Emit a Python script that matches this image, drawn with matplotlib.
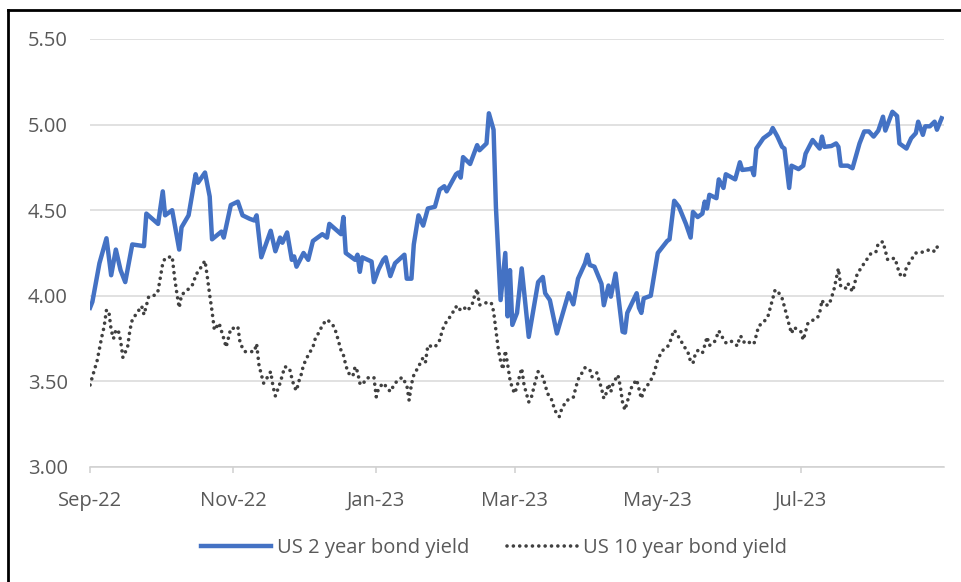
import pandas as pd
import matplotlib
matplotlib.use("Agg")
import matplotlib.pyplot as plt
import matplotlib.dates as mdates
from matplotlib.lines import Line2D

plt.rcParams['font.family'] = ['Open Sans', 'DejaVu Sans']

# days counted from 1 Sep 2022
start = pd.Timestamp("2022-09-01")

two_yr_days = [0, 1, 4, 7, 9, 11, 13, 15, 18, 23, 24, 29, 31, 32, 35, 38, 39, 42, 45, 46,
               49, 51, 52, 56, 57, 60, 63, 65, 68, 70, 71, 73, 77, 79, 81, 82, 84, 86, 87, 88,
               91, 93, 95, 99, 101, 102, 107, 108, 109, 113, 114, 115, 116, 120, 121, 123, 125, 126, 128, 130,
               134, 135, 137, 138, 140, 142, 144, 147, 149, 151, 152, 156, 157, 158, 159, 162, 165, 166, 169, 170,
               172, 173, 175, 177, 178, 179, 180, 182, 184, 187, 191, 193, 194, 196, 199, 204, 206, 208, 211, 212,
               213, 215, 218, 219, 221, 222, 224, 227, 228, 229, 233, 234, 235, 236, 239, 242, 246, 247, 249, 251,
               254, 256, 257, 259, 261, 262, 263, 264, 267, 268, 270, 271, 275, 277, 278, 281, 282, 283, 284, 287,
               290, 291, 293, 295, 296, 298, 299, 302, 304, 305, 308, 311, 312, 313, 316, 318, 319, 320, 323, 325,
               328, 330, 332, 334, 336, 338, 339, 342, 344, 345, 348, 350, 352, 353, 355, 356, 358, 360, 361, 363]
two_yr = [3.93, 3.965, 4.19, 4.336, 4.12, 4.27, 4.15, 4.08, 4.30, 4.29, 4.48, 4.42, 4.61, 4.47, 4.50, 4.27, 4.40, 4.47, 4.71, 4.66,
          4.72, 4.58, 4.33, 4.375, 4.34, 4.53, 4.55, 4.47, 4.45, 4.44, 4.47, 4.225, 4.38, 4.26, 4.34, 4.31, 4.37, 4.21, 4.23, 4.17,
          4.25, 4.21, 4.32, 4.36, 4.34, 4.42, 4.36, 4.46, 4.25, 4.21, 4.24, 4.14, 4.225, 4.20, 4.08, 4.155, 4.21, 4.225, 4.115, 4.19,
          4.24, 4.10, 4.10, 4.30, 4.47, 4.41, 4.51, 4.52, 4.62, 4.64, 4.61, 4.71, 4.72, 4.69, 4.81, 4.77, 4.88, 4.85, 4.89, 5.066,
          4.97, 4.52, 3.975, 4.25, 3.88, 4.15, 3.83, 3.90, 4.16, 3.76, 4.08, 4.11, 4.015, 3.975, 3.78, 4.015, 3.95, 4.10, 4.19, 4.24,
          4.18, 4.17, 4.07, 3.945, 4.06, 3.995, 4.13, 3.79, 3.785, 3.90, 4.015, 3.93, 3.90, 3.985, 4.00, 4.25, 4.32, 4.33, 4.555, 4.52,
          4.42, 4.34, 4.49, 4.46, 4.48, 4.55, 4.51, 4.59, 4.57, 4.68, 4.63, 4.71, 4.68, 4.78, 4.735, 4.74, 4.745, 4.705, 4.86, 4.92,
          4.95, 4.98, 4.93, 4.87, 4.86, 4.63, 4.76, 4.74, 4.76, 4.83, 4.91, 4.86, 4.93, 4.87, 4.875, 4.89, 4.87, 4.76, 4.76, 4.745,
          4.89, 4.96, 4.96, 4.93, 4.965, 5.046, 4.965, 5.075, 5.05, 4.89, 4.86, 4.92, 4.95, 5.017, 4.94, 4.99, 4.99, 5.017, 4.97, 5.037]

ten_yr_days = [0, 1, 3, 4, 5, 6, 7, 8, 9, 10, 11, 12, 13, 14, 16, 17, 18, 20, 22, 23,
               25, 28, 29, 31, 32, 35, 36, 37, 38, 39, 42, 44, 45, 47, 49, 50, 51, 52, 53, 55,
               57, 58, 60, 61, 63, 64, 66, 70, 71, 72, 73, 74, 75, 77, 78, 79, 81, 83, 85, 86,
               87, 88, 89, 90, 91, 93, 95, 96, 98, 99, 101, 102, 104, 105, 106, 107, 108, 109, 110, 112,
               113, 114, 115, 116, 118, 121, 122, 123, 125, 128, 130, 133, 135, 136, 137, 138, 140, 142, 143, 144,
               147, 149, 150, 151, 154, 156, 157, 159, 161, 163, 164, 165, 166, 169, 171, 172, 173, 174, 175, 176,
               177, 178, 179, 180, 181, 182, 183, 184, 185, 186, 187, 188, 189, 190, 191, 193, 194, 195, 197, 198,
               200, 201, 203, 205, 206, 207, 208, 210, 211, 213, 214, 216, 217, 218, 219, 220, 221, 222, 223, 225,
               226, 227, 228, 229, 230, 231, 233, 234, 235, 236, 238, 240, 241, 242, 244, 246, 247, 248, 249, 251,
               253, 255, 256, 257, 258, 259, 261, 262, 263, 264, 266, 267, 268, 270, 271, 273, 276, 277, 278, 279,
               282, 283, 284, 285, 287, 289, 290, 291, 292, 293, 295, 296, 297, 298, 299, 300, 303, 304, 305, 306,
               307, 310, 311, 312, 313, 315, 317, 319, 320, 322, 323, 325, 326, 327, 329, 331, 333, 335, 336, 338,
               339, 340, 341, 343, 344, 345, 347, 348, 350, 352, 354, 356, 359, 360, 362]
ten_yr = [3.479, 3.527, 3.62, 3.69, 3.76, 3.82, 3.917, 3.91, 3.80, 3.75, 3.80, 3.80, 3.74, 3.64, 3.70, 3.80, 3.86, 3.90, 3.94, 3.89,
          3.995, 4.005, 4.03, 4.19, 4.22, 4.23, 4.11, 4.015, 3.93, 4.005, 4.04, 4.07, 4.12, 4.16, 4.205, 4.11, 4.005, 3.91, 3.80, 3.84,
          3.75, 3.70, 3.81, 3.81, 3.82, 3.72, 3.674, 3.674, 3.72, 3.596, 3.54, 3.49, 3.51, 3.557, 3.47, 3.415, 3.49, 3.586, 3.577, 3.52,
          3.47, 3.446, 3.50, 3.54, 3.596, 3.654, 3.70, 3.75, 3.796, 3.83, 3.86, 3.85, 3.82, 3.78, 3.73, 3.68, 3.654, 3.596, 3.55, 3.53,
          3.586, 3.557, 3.49, 3.479, 3.52, 3.524, 3.41, 3.46, 3.49, 3.44, 3.49, 3.524, 3.479, 3.39, 3.483, 3.537, 3.586, 3.64, 3.615, 3.71,
          3.70, 3.74, 3.79, 3.83, 3.888, 3.936, 3.913, 3.936, 3.913, 3.956, 4.005, 4.04, 3.946, 3.96, 3.96, 3.91, 3.80, 3.69, 3.62, 3.57,
          3.68, 3.60, 3.51, 3.46, 3.43, 3.47, 3.527, 3.577, 3.479, 3.43, 3.38, 3.40, 3.454, 3.51, 3.557, 3.527, 3.479, 3.43, 3.387, 3.333,
          3.294, 3.337, 3.387, 3.40, 3.407, 3.46, 3.51, 3.557, 3.58, 3.57, 3.527, 3.55, 3.504, 3.46, 3.40, 3.43, 3.485, 3.44, 3.49, 3.537,
          3.473, 3.376, 3.333, 3.38, 3.43, 3.473, 3.51, 3.454, 3.40, 3.446, 3.485, 3.53, 3.577, 3.63, 3.68, 3.70, 3.72, 3.765, 3.80, 3.757,
          3.71, 3.664, 3.615, 3.606, 3.66, 3.68, 3.664, 3.71, 3.76, 3.71, 3.726, 3.757, 3.796, 3.746, 3.726, 3.738, 3.707, 3.765, 3.757, 3.722,
          3.73, 3.72, 3.77, 3.824, 3.843, 3.882, 3.933, 3.985, 4.034, 4.03, 3.985, 3.936, 3.882, 3.83, 3.78, 3.816, 3.79, 3.742, 3.79, 3.84,
          3.85, 3.87, 3.90, 3.975, 3.946, 3.946, 4.03, 4.16, 4.053, 4.044, 4.073, 4.024, 4.077, 4.127, 4.17, 4.21, 4.25, 4.257, 4.307, 4.316,
          4.264, 4.21, 4.213, 4.22, 4.18, 4.127, 4.11, 4.167, 4.21, 4.25, 4.25, 4.264, 4.27, 4.257, 4.307]

y_ticks = [3.0, 3.5, 4.0, 4.5, 5.0, 5.5]

two_dates = start + pd.to_timedelta(two_yr_days, unit="D")
ten_dates = start + pd.to_timedelta(ten_yr_days, unit="D")

fig = plt.figure(figsize=(9.61, 5.82), dpi=100)
ax = fig.add_axes([0.0937, 0.1976, 0.8886, 0.7354])

grey_txt = "#595959"
fs = 14.5
ax.plot(ten_dates, ten_yr, color="#404040", lw=2.6, linestyle=(0, (0.01, 1.75)),
        dash_capstyle="round", label="US 10 year bond yield", zorder=3)
ax.plot(two_dates, two_yr, color="#4472C4", lw=3.2, solid_joinstyle="round",
        label="US 2 year bond yield", zorder=4)

ax.set_ylim(3.0, 5.5)
ax.set_yticks(y_ticks)
ax.set_yticklabels([f"{v:.2f}" for v in y_ticks])
ax.set_xlim(pd.Timestamp("2022-09-01"), pd.Timestamp("2023-08-31"))
ax.xaxis.set_major_locator(mdates.MonthLocator(bymonth=[9, 11, 1, 3, 5, 7]))
ax.xaxis.set_major_formatter(mdates.DateFormatter("%b-%y"))

ax.grid(axis="y", color="#d9d9d9", lw=1.1)
ax.set_axisbelow(True)
for s in ["top", "right", "left"]:
    ax.spines[s].set_visible(False)
ax.spines["bottom"].set_color("#d0d0d0")
ax.spines["bottom"].set_linewidth(1.1)
ax.tick_params(axis="y", length=0, pad=16, labelsize=fs, labelcolor=grey_txt)
ax.tick_params(axis="x", length=4, width=1.1, color="#d0d0d0", pad=13,
               labelsize=fs, labelcolor=grey_txt)

handles, labels = ax.get_legend_handles_labels()
fig.legend(handles[::-1], labels[::-1], loc="center", bbox_to_anchor=(0.514, 0.058),
           ncol=2, frameon=False, fontsize=fs, labelcolor=grey_txt,
           handlelength=3.45, handletextpad=0.3, columnspacing=1.9)

# black frame round the picture (left and top edges visible)
fig.add_artist(Line2D([8 / 961, 8 / 961], [0, 1 - 10 / 582], color="black", lw=2,
                      transform=fig.transFigure))
fig.add_artist(Line2D([8 / 961, 1], [1 - 10 / 582, 1 - 10 / 582], color="black", lw=2,
                      transform=fig.transFigure))

fig.savefig("out.png", dpi=100)
